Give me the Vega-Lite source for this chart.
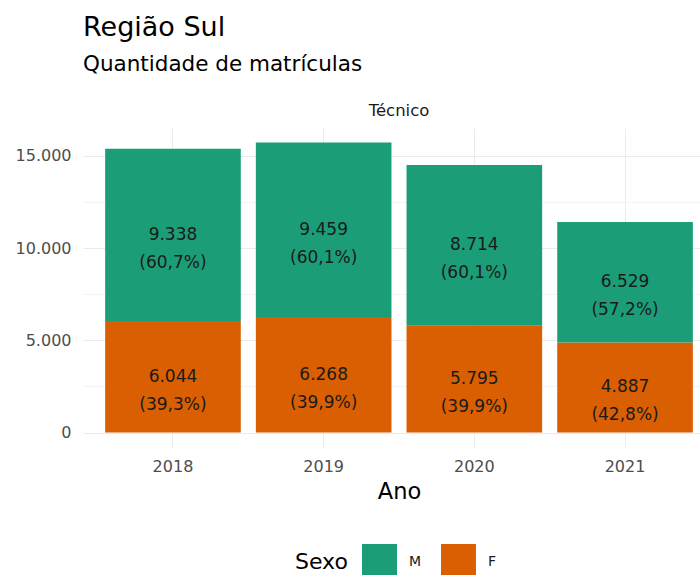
{
  "$schema": "https://vega.github.io/schema/vega-lite/v6.json",
  "background": "white",
  "padding": {"left": 15, "top": 14, "right": 0, "bottom": 0},
  "title": {
    "text": "Região Sul",
    "subtitle": "Quantidade de matrículas",
    "anchor": "start",
    "frame": "group",
    "font": "DejaVu Sans",
    "fontSize": 27,
    "fontWeight": "normal",
    "color": "#000000",
    "subtitleFont": "DejaVu Sans",
    "subtitleFontSize": 21.5,
    "subtitleColor": "#000000",
    "subtitlePadding": 12,
    "offset": 26
  },
  "data": {
    "values": [
      {"nivel": "Técnico", "ano": "2018", "sexo": "F", "ord": 1, "valor": 6044, "lab": "6.044\n(39,3%)"},
      {"nivel": "Técnico", "ano": "2018", "sexo": "M", "ord": 2, "valor": 9338, "lab": "9.338\n(60,7%)"},
      {"nivel": "Técnico", "ano": "2019", "sexo": "F", "ord": 1, "valor": 6268, "lab": "6.268\n(39,9%)"},
      {"nivel": "Técnico", "ano": "2019", "sexo": "M", "ord": 2, "valor": 9459, "lab": "9.459\n(60,1%)"},
      {"nivel": "Técnico", "ano": "2020", "sexo": "F", "ord": 1, "valor": 5795, "lab": "5.795\n(39,9%)"},
      {"nivel": "Técnico", "ano": "2020", "sexo": "M", "ord": 2, "valor": 8714, "lab": "8.714\n(60,1%)"},
      {"nivel": "Técnico", "ano": "2021", "sexo": "F", "ord": 1, "valor": 4887, "lab": "4.887\n(42,8%)"},
      {"nivel": "Técnico", "ano": "2021", "sexo": "M", "ord": 2, "valor": 6529, "lab": "6.529\n(57,2%)"}
    ]
  },
  "transform": [
    {"stack": "valor", "groupby": ["ano"], "sort": [{"field": "ord", "order": "ascending"}], "as": ["y0", "y1"]},
    {"calculate": "(datum.y0 + datum.y1) / 2", "as": "mid"}
  ],
  "facet": {
    "column": {
      "field": "nivel",
      "title": null,
      "header": {"labelFont": "DejaVu Sans", "labelFontSize": 16.5, "labelColor": "#1a1a1a", "labelPadding": 9}
    }
  },
  "spec": {
    "width": 632,
    "height": 319,
    "encoding": {
      "x": {
        "field": "ano",
        "type": "ordinal",
        "title": "Ano",
        "scale": {"paddingInner": 0.1, "paddingOuter": 0.147},
        "axis": {
          "labelAngle": 0,
          "grid": true,
          "bandPosition": 0.5,
          "gridColor": "#ebebeb",
          "gridWidth": 1,
          "domain": false,
          "ticks": false,
          "labelFont": "DejaVu Sans",
          "labelFontSize": 16,
          "labelColor": "#4d4d4d",
          "labelPadding": 11,
          "titleFont": "DejaVu Sans",
          "titleFontSize": 22.5,
          "titleFontWeight": "normal",
          "titleColor": "#000000",
          "titlePadding": 6
        }
      }
    },
    "layer": [
      {
        "mark": {"type": "bar"},
        "encoding": {
          "y": {
            "field": "y0",
            "type": "quantitative",
            "title": null,
            "scale": {"domain": [-786, 16513], "nice": false, "zero": false},
            "axis": {
              "values": [0, 2500, 5000, 7500, 10000, 12500, 15000],
              "format": ",d",
              "labelExpr": "datum.value % 5000 === 0 ? datum.label : ''",
              "grid": true,
              "gridColor": {"condition": {"test": "datum.value % 5000 !== 0", "value": "#f3f3f3"}, "value": "#ebebeb"},
              "domain": false,
              "ticks": false,
              "labelFont": "DejaVu Sans",
              "labelFontSize": 16,
              "labelColor": "#4d4d4d",
              "labelPadding": 12
            }
          },
          "y2": {"field": "y1"},
          "color": {
            "field": "sexo",
            "type": "nominal",
            "scale": {"domain": ["M", "F"], "range": ["#1B9E77", "#D95F02"]},
            "legend": {
              "title": "Sexo",
              "orient": "none",
              "legendX": 212,
              "legendY": 416,
              "direction": "horizontal",
              "titleOrient": "left",
              "titleFont": "DejaVu Sans",
              "titleFontSize": 22,
              "titleFontWeight": "normal",
              "titleColor": "#000000",
              "titlePadding": 14,
              "labelFont": "DejaVu Sans",
              "labelFontSize": 14,
              "labelColor": "#1a1a1a",
              "labelOffset": 12,
              "symbolType": "square",
              "symbolSize": 1225,
              "symbolStrokeWidth": 0,
              "columnPadding": 19
            }
          }
        }
      },
      {
        "mark": {"type": "text", "font": "DejaVu Sans", "fontSize": 17, "color": "#1a1a1a", "lineBreak": "\n", "lineHeight": 28, "baseline": "middle"},
        "encoding": {
          "y": {"field": "mid", "type": "quantitative"},
          "text": {"field": "lab"}
        }
      }
    ]
  },
  "config": {
    "locale": {"number": {"decimal": ",", "thousands": ".", "grouping": [3], "currency": ["R$", ""]}},
    "view": {"stroke": null},
    "header": {"labelOrient": "top"}
  }
}
